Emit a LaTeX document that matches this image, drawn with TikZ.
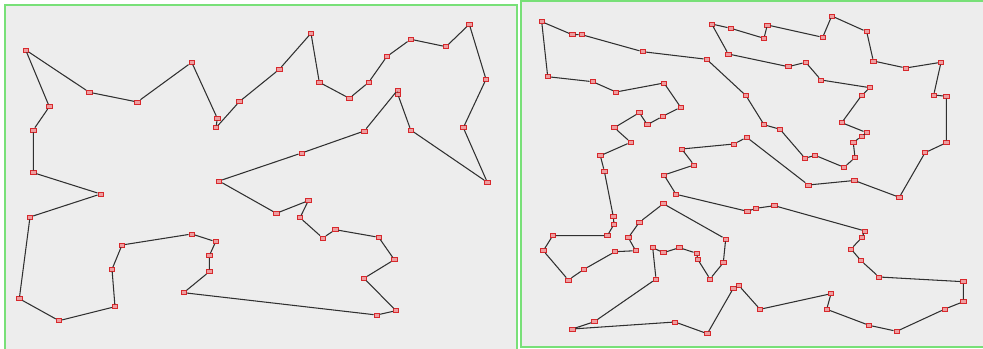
\documentclass[tikz,border=0pt]{standalone}
\definecolor{PanelGrey}{HTML}{EDEDED}
\definecolor{FrameGreen}{HTML}{78E078}
\definecolor{CityRed}{HTML}{D8282C}
\definecolor{TourGrey}{HTML}{303030}
\usepackage{tikz}

\begin{document}
\begin{tikzpicture}[x=0.03cm, y=-0.03cm,
    city/.style={draw=CityRed, fill=CityRed!45, line width=0.6pt,
                 minimum width=0.17cm, minimum height=0.12cm, inner sep=0pt},
    tour/.style={TourGrey, line width=0.9pt}]
  \useasboundingbox (0,0) rectangle (983,349);
  \fill[white] (0,0) rectangle (983,349);
  % panels
  \draw[FrameGreen, fill=PanelGrey, line width=1.6pt] (5,5) rectangle (517,355);
  \draw[FrameGreen, fill=PanelGrey, line width=1.6pt] (521,1) rectangle (988,347);

  % left tour, 50 cities
  \node[city] (l1) at (25.7,50) {};
  \node[city] (l2) at (89.3,92.3) {};
  \node[city] (l3) at (137.3,102) {};
  \node[city] (l4) at (191.7,62.3) {};
  \node[city] (l5) at (217.3,118.3) {};
  \node[city] (l6) at (216,127.7) {};
  \node[city] (l7) at (239.3,101.7) {};
  \node[city] (l8) at (279.3,69.3) {};
  \node[city] (l9) at (311,33.3) {};
  \node[city] (l10) at (319.3,82.3) {};
  \node[city] (l11) at (349.3,98.3) {};
  \node[city] (l12) at (368.7,82.3) {};
  \node[city] (l13) at (386.7,56.7) {};
  \node[city] (l14) at (410.7,39.3) {};
  \node[city] (l15) at (446,46.7) {};
  \node[city] (l16) at (469.3,24.3) {};
  \node[city] (l17) at (486,79.3) {};
  \node[city] (l18) at (463.3,127.7) {};
  \node[city] (l19) at (487.3,182.3) {};
  \node[city] (l20) at (410.7,130) {};
  \node[city] (l21) at (397.7,94) {};
  \node[city] (l22) at (397.7,90) {};
  \node[city] (l23) at (364.3,131) {};
  \node[city] (l24) at (301.7,153) {};
  \node[city] (l25) at (219,181) {};
  \node[city] (l26) at (276.3,213.3) {};
  \node[city] (l27) at (308.3,200.7) {};
  \node[city] (l28) at (300,217.7) {};
  \node[city] (l29) at (322.7,238) {};
  \node[city] (l30) at (335.3,229.7) {};
  \node[city] (l31) at (378.7,237.3) {};
  \node[city] (l32) at (394.3,259.7) {};
  \node[city] (l33) at (364,278.3) {};
  \node[city] (l34) at (396,310.7) {};
  \node[city] (l35) at (376.7,315) {};
  \node[city] (l36) at (183.7,292.7) {};
  \node[city] (l37) at (209.3,271.7) {};
  \node[city] (l38) at (209.3,255.7) {};
  \node[city] (l39) at (215.7,241.7) {};
  \node[city] (l40) at (191.7,234) {};
  \node[city] (l41) at (122,245) {};
  \node[city] (l42) at (112,269.3) {};
  \node[city] (l43) at (115,306.7) {};
  \node[city] (l44) at (59,320.7) {};
  \node[city] (l45) at (19.3,298.7) {};
  \node[city] (l46) at (30,217) {};
  \node[city] (l47) at (100.7,194) {};
  \node[city] (l48) at (33.3,172.7) {};
  \node[city] (l49) at (33.3,130) {};
  \node[city] (l50) at (49.3,106.7) {};
  \draw[tour] (l1) -- (l2) -- (l3) -- (l4) -- (l5) -- (l6) -- (l7) -- (l8)
    -- (l9) -- (l10) -- (l11) -- (l12) -- (l13) -- (l14) -- (l15) -- (l16)
    -- (l17) -- (l18) -- (l19) -- (l20) -- (l21) -- (l22) -- (l23) -- (l24)
    -- (l25) -- (l26) -- (l27) -- (l28) -- (l29) -- (l30) -- (l31) -- (l32)
    -- (l33) -- (l34) -- (l35) -- (l36) -- (l37) -- (l38) -- (l39) -- (l40)
    -- (l41) -- (l42) -- (l43) -- (l44) -- (l45) -- (l46) -- (l47) -- (l48)
    -- (l49) -- (l50) -- (l1);

  % right tour, 100 cities
  \node[city] (r1) at (541.7,21.7) {};
  \node[city] (r2) at (572.3,34.7) {};
  \node[city] (r3) at (581.7,34.7) {};
  \node[city] (r4) at (642.7,51.7) {};
  \node[city] (r5) at (706.7,59.3) {};
  \node[city] (r6) at (746,95.7) {};
  \node[city] (r7) at (764,124.7) {};
  \node[city] (r8) at (780,129.3) {};
  \node[city] (r9) at (805,158.3) {};
  \node[city] (r10) at (815,155.3) {};
  \node[city] (r11) at (844,167.3) {};
  \node[city] (r12) at (855,157.7) {};
  \node[city] (r13) at (853.3,142.7) {};
  \node[city] (r14) at (861.7,136) {};
  \node[city] (r15) at (866.7,132.7) {};
  \node[city] (r16) at (841.7,122.7) {};
  \node[city] (r17) at (861.7,95.3) {};
  \node[city] (r18) at (870,87.7) {};
  \node[city] (r19) at (821,80) {};
  \node[city] (r20) at (805.7,62.3) {};
  \node[city] (r21) at (788.3,66.7) {};
  \node[city] (r22) at (728.3,54) {};
  \node[city] (r23) at (711.7,24) {};
  \node[city] (r24) at (730.7,28.3) {};
  \node[city] (r25) at (764,38.3) {};
  \node[city] (r26) at (767.3,25) {};
  \node[city] (r27) at (822.7,37.3) {};
  \node[city] (r28) at (831.7,16) {};
  \node[city] (r29) at (866.7,31.7) {};
  \node[city] (r30) at (873.3,61) {};
  \node[city] (r31) at (905.7,68) {};
  \node[city] (r32) at (941,62.3) {};
  \node[city] (r33) at (933.7,95) {};
  \node[city] (r34) at (946.3,96.3) {};
  \node[city] (r35) at (946.3,142.7) {};
  \node[city] (r36) at (925,152.7) {};
  \node[city] (r37) at (899.3,197.3) {};
  \node[city] (r38) at (854.3,180.5) {};
  \node[city] (r39) at (808.3,185) {};
  \node[city] (r40) at (746.7,137.3) {};
  \node[city] (r41) at (734,144) {};
  \node[city] (r42) at (681.7,149) {};
  \node[city] (r43) at (694,165) {};
  \node[city] (r44) at (664,175) {};
  \node[city] (r45) at (676,194.3) {};
  \node[city] (r46) at (747.3,211.3) {};
  \node[city] (r47) at (756,208.3) {};
  \node[city] (r48) at (774.3,205.7) {};
  \node[city] (r49) at (865,231) {};
  \node[city] (r50) at (861.7,237.7) {};
  \node[city] (r51) at (851,249) {};
  \node[city] (r52) at (861,260.7) {};
  \node[city] (r53) at (879,277) {};
  \node[city] (r54) at (963.3,281.7) {};
  \node[city] (r55) at (963.3,301.7) {};
  \node[city] (r56) at (945,309) {};
  \node[city] (r57) at (896.7,331.3) {};
  \node[city] (r58) at (869,325.3) {};
  \node[city] (r59) at (826.7,309.3) {};
  \node[city] (r60) at (831,293.7) {};
  \node[city] (r61) at (760,309.3) {};
  \node[city] (r62) at (739,285.7) {};
  \node[city] (r63) at (733.3,288.3) {};
  \node[city] (r64) at (707.3,333.7) {};
  \node[city] (r65) at (675,322) {};
  \node[city] (r66) at (572.3,329) {};
  \node[city] (r67) at (594.3,321.7) {};
  \node[city] (r68) at (656,279) {};
  \node[city] (r69) at (652.7,247.7) {};
  \node[city] (r70) at (663.3,252.7) {};
  \node[city] (r71) at (679.3,247.7) {};
  \node[city] (r72) at (696.7,253.3) {};
  \node[city] (r73) at (697.7,259.3) {};
  \node[city] (r74) at (710,279) {};
  \node[city] (r75) at (723.3,262.7) {};
  \node[city] (r76) at (725.7,239) {};
  \node[city] (r77) at (663.3,203.7) {};
  \node[city] (r78) at (639.3,222.3) {};
  \node[city] (r79) at (628.3,237.7) {};
  \node[city] (r80) at (635.7,250.7) {};
  \node[city] (r81) at (615,251.7) {};
  \node[city] (r82) at (584,269.3) {};
  \node[city] (r83) at (568.3,280) {};
  \node[city] (r84) at (543.3,250.7) {};
  \node[city] (r85) at (552.7,235.7) {};
  \node[city] (r86) at (607.3,235.7) {};
  \node[city] (r87) at (614,224.3) {};
  \node[city] (r88) at (613.3,216.7) {};
  \node[city] (r89) at (604.3,171) {};
  \node[city] (r90) at (600.3,155.7) {};
  \node[city] (r91) at (630.7,142.3) {};
  \node[city] (r92) at (614.3,127.7) {};
  \node[city] (r93) at (639.3,112.7) {};
  \node[city] (r94) at (647.3,124.7) {};
  \node[city] (r95) at (662.7,116.3) {};
  \node[city] (r96) at (680.7,107.3) {};
  \node[city] (r97) at (664,83) {};
  \node[city] (r98) at (616,92) {};
  \node[city] (r99) at (592.7,81.7) {};
  \node[city] (r100) at (547.7,76.7) {};
  \draw[tour] (r1) -- (r2) -- (r3) -- (r4) -- (r5) -- (r6) -- (r7) -- (r8)
    -- (r9) -- (r10) -- (r11) -- (r12) -- (r13) -- (r14) -- (r15) -- (r16)
    -- (r17) -- (r18) -- (r19) -- (r20) -- (r21) -- (r22) -- (r23) -- (r24)
    -- (r25) -- (r26) -- (r27) -- (r28) -- (r29) -- (r30) -- (r31) -- (r32)
    -- (r33) -- (r34) -- (r35) -- (r36) -- (r37) -- (r38) -- (r39) -- (r40)
    -- (r41) -- (r42) -- (r43) -- (r44) -- (r45) -- (r46) -- (r47) -- (r48)
    -- (r49) -- (r50) -- (r51) -- (r52) -- (r53) -- (r54) -- (r55) -- (r56)
    -- (r57) -- (r58) -- (r59) -- (r60) -- (r61) -- (r62) -- (r63) -- (r64)
    -- (r65) -- (r66) -- (r67) -- (r68) -- (r69) -- (r70) -- (r71) -- (r72)
    -- (r73) -- (r74) -- (r75) -- (r76) -- (r77) -- (r78) -- (r79) -- (r80)
    -- (r81) -- (r82) -- (r83) -- (r84) -- (r85) -- (r86) -- (r87) -- (r88)
    -- (r89) -- (r90) -- (r91) -- (r92) -- (r93) -- (r94) -- (r95) -- (r96)
    -- (r97) -- (r98) -- (r99) -- (r100) -- (r1);
\end{tikzpicture}
\end{document}
